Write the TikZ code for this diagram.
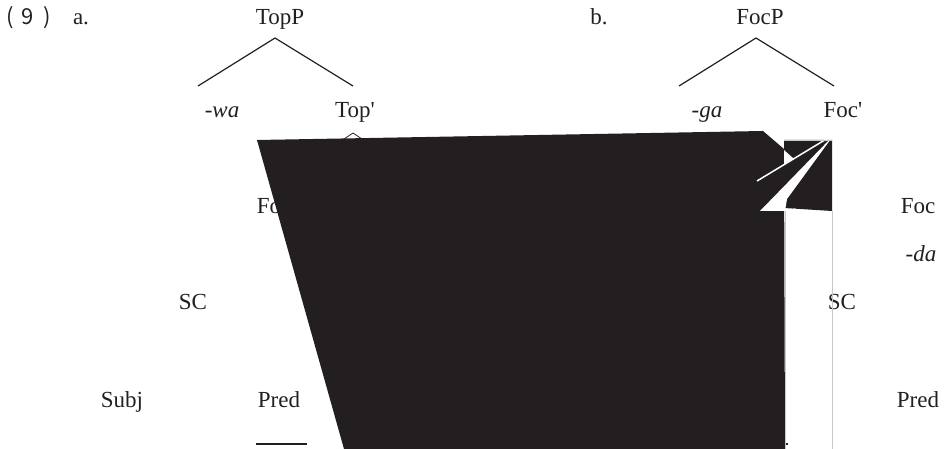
\documentclass[tikz,border=0pt]{standalone}
\usepackage{fontspec}
\setmainfont{Liberation Serif}[Ligatures=TeXOff]
\newfontfamily\cjkfont{Noto Sans CJK JP}
\definecolor{ink}{HTML}{231F20}
\definecolor{edgegray}{HTML}{C8C8C8}
\begin{document}
\begin{tikzpicture}[x=1pt,y=-1pt,
  lbl/.style={anchor=base,inner sep=0pt,text=ink,font=\fontsize{23}{27}\selectfont},
  numlbl/.style={anchor=base,inner sep=0pt,text=ink,font=\cjkfont\fontsize{22}{26}\selectfont},
  branch/.style={draw=ink,line width=1.2pt},
  blot/.style={fill=ink,draw=none},
  gap/.style={fill=white,draw=none},
  seam/.style={draw=edgegray,line width=1pt}]
\useasboundingbox (0,0) rectangle (946,449);
% example number and letters
\node[numlbl] (pa) at (10,25) {(};
\node[numlbl] (p9) at (27.5,25) {9};
\node[numlbl] (pb) at (47.5,25) {)};
\node[lbl] (la) at (81,25) {a.};
\node[lbl] (lb) at (599,25) {b.};
% tree a
\node[lbl] (topP) at (280,25) {TopP};
\node[lbl] (wa) at (222,118) {\itshape -wa};
\node[lbl] (topbar) at (355,118) {Top'};
\node[lbl] (focA) at (274,214) {Foc};
\node[lbl] (scA) at (193,310) {SC};
\node[lbl] (subj) at (122,407) {Subj};
\node[lbl] (predA) at (279,407) {Pred};
% tree b
\node[lbl] (focP) at (760,25) {FocP};
\node[lbl] (ga) at (707,118) {\itshape -ga};
\node[lbl] (focbar) at (843,118) {Foc'};
\node[lbl] (focB) at (918,214) {Foc};
\node[lbl] (da) at (921,262) {\itshape -da};
\node[lbl] (scB) at (842,310) {SC};
\node[lbl] (predB) at (918,407) {Pred};
% branch points
\coordinate (ta) at (275,38);
\coordinate (tl) at (198,86);
\coordinate (tr) at (353,86);
\coordinate (fa) at (756,38);
\coordinate (fl) at (679,86);
\coordinate (fr) at (834,86);
\draw[branch] (tl) -- (ta) -- (tr);
\draw[branch] (fl) -- (fa) -- (fr);
% caret below Top'
\coordinate (c1) at (344,139);
\coordinate (c2) at (353,133);
\coordinate (c3) at (362,139);
\draw[draw=ink,line width=0.8pt] (c1) -- (c2) -- (c3);
% underline under Pred
\coordinate (u1) at (256,444);
\coordinate (u2) at (307,444);
\draw[draw=ink,line width=1.7pt] (u1) -- (u2);
% large black blot
\fill[blot] (257,140) -- (763,131) -- (784,149) -- (785,449) -- (344,449) -- cycle;
\fill[blot] (784,140) -- (832,140) -- (832,211) -- (784,208) -- cycle;
\fill[blot] (785,442.5) rectangle (788,444.5);
% white cuts
\fill[gap] (760,211) -- (833,136) -- (787,199) -- (785,211) -- cycle;
\fill[gap] (784,150) -- (794,159) -- (784,165) -- cycle;
\draw[white,line width=1.5pt] (757,181) -- (833,135);
\fill[gap] (793,208.5) -- (797,209) -- (795,211) -- cycle;
% grey seams
\draw[seam] (785.5,211) -- (785.5,449);
\draw[seam] (832.5,211) -- (832.5,449);
\draw[draw=edgegray,line width=0.5pt] (784,140) -- (832,140);
\end{tikzpicture}
\end{document}
